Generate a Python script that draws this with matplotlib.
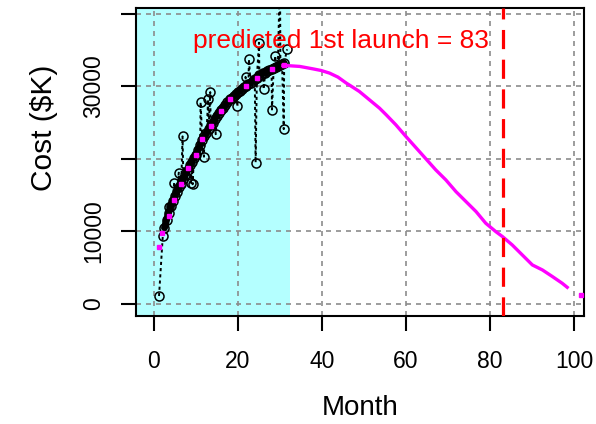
import matplotlib
matplotlib.use('Agg')
import matplotlib.pyplot as plt

plt.rcParams['font.family'] = ['Liberation Sans', 'DejaVu Sans']

# наблюдаемые затраты, лежащие на основной кривой
band_month = [2.5, 3.0, 3.5, 4.0, 4.5, 5.0, 5.5, 6.0, 6.5, 7.0, 7.5, 8.0, 8.5, 9.0, 9.5,
              10.0, 10.5, 11.0, 11.5, 12.0, 12.5, 13.0, 13.5, 14.0, 14.5, 15.0, 15.5,
              16.0, 16.5, 17.0, 17.5, 18.0, 18.5, 19.0, 19.5, 20.0, 20.5, 21.0, 21.5,
              22.0, 22.5, 23.0, 23.5, 24.0, 24.5, 25.1, 25.5, 26.0, 26.5, 27.0, 27.5,
              28.0, 28.5, 29.0, 29.5, 30.1, 30.5, 31.0]
band_cost = [10500, 11600, 12600, 13500, 14200, 14900, 15500, 16100, 16600, 17200, 17800,
             18500, 19100, 19600, 20100, 20600, 21200, 21900, 22600, 23100, 23600, 24100,
             24600, 25000, 25500, 25900, 26300, 26700, 27000, 27400, 27800, 28200, 28400,
             28700, 28900, 29200, 29400, 29600, 29900, 30100, 30300, 30500, 30800, 31000,
             31200, 31500, 31600, 31800, 31900, 32100, 32200, 32400, 32500, 32700, 32800,
             33000, 33100, 33200]

# выбросы
out_month = [1.2, 2.1, 3.6, 4.8, 5.9, 6.8, 8.8, 9.2, 11.1, 11.9, 12.9, 13.4, 14.7, 19.8,
             21.8, 22.6, 24.2, 25.0, 26.1, 28.1, 28.9, 30.0, 30.9, 31.7]
out_cost = [1100, 9400, 13300, 16700, 18100, 23100, 16700, 16500, 27800, 20300, 28200,
            29200, 23400, 27300, 31300, 33700, 19500, 36000, 29600, 26800, 34200, 46000,
            24100, 35100]

# модельные значения на обучающем участке
fit_month = [1.2, 1.9, 3.6, 4.8, 6.4, 8.0, 10.0, 11.5, 13.5, 15.9, 18.2, 21.8, 24.6, 28.1, 30.9]
fit_cost = [7900, 9800, 12100, 14400, 16500, 18800, 20600, 22700, 24500, 26600, 28200,
            30000, 31200, 32400, 33000]

# прогноз
pred_month = [30.7, 32.3, 34.7, 37.8, 39.8, 41.8, 43.8, 45.8, 47.3, 48.9, 51.3, 53.7,
              55.3, 57.6, 60.0, 63.2, 67.1, 69.5, 71.9, 74.3, 76.7, 79.0, 81.4, 83.0,
              85.3, 87.7, 90.1, 92.5, 94.9, 97.2, 98.4]
pred_cost = [32870, 32830, 32740, 32410, 32180, 31820, 31270, 30440, 29890, 29290, 28140,
             26990, 26070, 24690, 23080, 21010, 18480, 17100, 15490, 14110, 12730, 11130,
             9970, 9280, 8140, 6760, 5380, 4690, 3770, 2860, 2300]
last_month = [101.6]
last_cost = [1200]

train_end = 32.3
launch = 83

# все наблюдения по порядку месяцев
obs = sorted(zip(band_month + out_month, band_cost + out_cost))
obs_month = [m for m, c in obs]
obs_cost = [c for m, c in obs]

fig = plt.figure(figsize=(5.96, 4.24), dpi=100)
ax = fig.add_axes([0.2282, 0.2547, 0.7517, 0.7264])

# обучающий участок
ax.axvspan(-10, train_end, color='#B4FFFF', zorder=0, lw=0)

ax.plot(band_month, band_cost, color='black', lw=5, solid_capstyle='round', zorder=3)
ax.plot(obs_month, obs_cost, color='black', linestyle=(0, (1.6, 1.6)), lw=1.4,
        marker='o', markersize=6.5, markerfacecolor='none', markeredgecolor='black',
        markeredgewidth=1.1, zorder=3)
ax.plot(fit_month, fit_cost, 's', color='#FF00FF', markersize=3, zorder=4)
ax.plot(pred_month, pred_cost, color='#FF00FF', lw=2.4, zorder=4)
ax.plot(last_month, last_cost, 's', color='#FF00FF', markersize=3, zorder=4)

# предполагаемый первый запуск
ax.axvline(launch, color='#FF0000', lw=2.3, linestyle=(0, (6, 3.3)), zorder=5)
ax.text(44.4, 36240, 'predicted 1st launch = %d' % launch, color='#FF0000',
        fontsize=19, ha='center', va='center', zorder=6)

ax.set_xlim(-4.28, 102.4)
ax.set_ylim(-1655, 40790)
ax.set_xticks([0, 20, 40, 60, 80, 100])
ax.set_yticks([0, 10000, 20000, 30000, 40000])
ax.set_yticklabels(['0', '10000', '', '30000', ''])
plt.setp(ax.get_yticklabels(), rotation=90, va='center')

ax.set_axisbelow(True)
ax.grid(True, color='#8c8c8c', linestyle=(0, (3, 3)), lw=1.2)
for s in ax.spines.values():
    s.set_linewidth(1.5)
ax.tick_params(direction='out', length=11, width=1.5, labelsize=16.5)
ax.tick_params(axis='x', pad=13.5)
ax.tick_params(axis='y', pad=11.5)

ax.set_xlabel('Month', fontsize=20)
ax.set_ylabel('Cost ($K)', fontsize=21.5)
ax.xaxis.set_label_coords(0.5, -0.256)
ax.yaxis.set_label_coords(-0.174, 0.61)

fig.savefig('out.png', dpi=100)
